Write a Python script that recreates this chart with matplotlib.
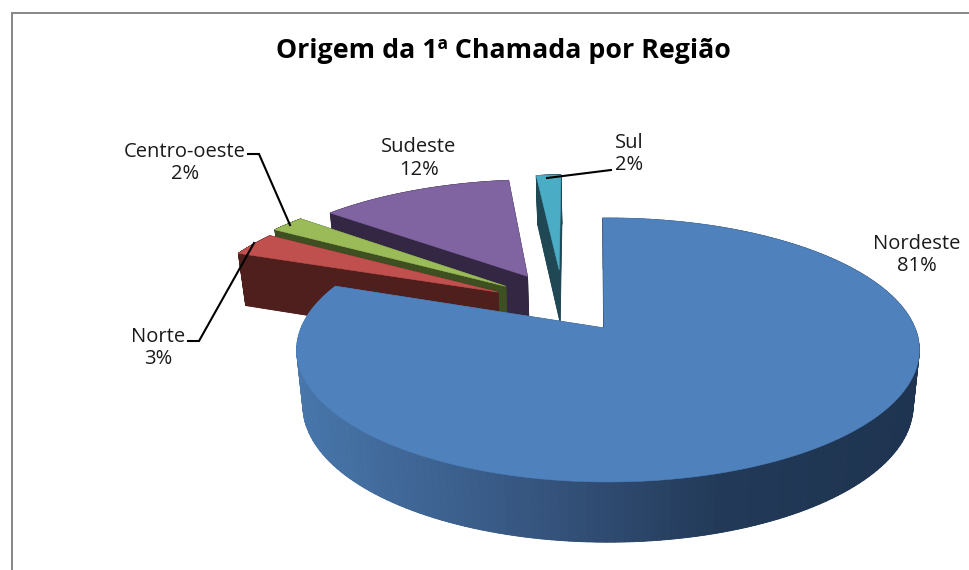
#!/usr/bin/env python
# -*- coding: utf-8 -*-

import numpy
import matplotlib
matplotlib.use('Agg')
import matplotlib.pyplot as plt
from matplotlib.collections import PolyCollection
from matplotlib.colors import LinearSegmentedColormap
from matplotlib.patches import Polygon, Rectangle

title = 'Origem da 1ª Chamada por Região'
regions = ['Nordeste', 'Norte', 'Centro-oeste', 'Sudeste', 'Sul']
shares = [80.9, 3.0, 2.1, 12.4, 1.6]

top_colors = ['#4f81bd', '#c0504d', '#9bbb59', '#8064a2', '#4bacc6']
wall_colors = [None, '#4f1f1e', '#3e4f22', '#342744', '#1f4854']

# exploded offset of each slice in disc units, and its radius
offsets_u = [-0.013, -0.376, -0.352, -0.281, -0.172]
offsets_v = [0, 0.2935, 0.3435, 0.4315, 0.489]
radii = [1, 1.02, 1.04, 1, 1]
draw_order = [4, 3, 2, 1, 0]

label_centers = [(917, 255), (158, 348), (185, 163), (419, 158.5), (629, 154)]
leaders = [
    None,
    [(188, 341), (199, 341), (254, 243)],
    [(248, 154), (259, 154), (290, 225)],
    None,
    [(547, 178), (611, 170)],
]

center_x, center_y = 608, 328
scale_x, scale_y = 307, 128.3
perspective = 1 / 6
depth = 55
bottom_shrink = 0.98
rotation = -1.1

wall_map = LinearSegmentedColormap.from_list(
    'wall',
    [(0.0, '#4877ac'), (0.38, '#36557f'), (0.68, '#223a58'), (1.0, '#1e3450')]
)


def project(u, v):
    w = 1 + perspective * v
    return center_x + scale_x * u / w, center_y - scale_y * v / w


def bottom_of(u, v):
    x, y = project(u, v)
    w = 1 + perspective * v
    return center_x + (x - center_x) * bottom_shrink, y + depth / numpy.sqrt(w)


def draw_slice(ax, index, start, stop):
    theta = numpy.radians(numpy.linspace(start, stop, 200) + rotation)
    # the big slice keeps its arc on the disc centre, only its apex is off
    arc_u = 0 if index == 0 else offsets_u[index]
    u = arc_u + radii[index] * numpy.sin(theta)
    v = offsets_v[index] + radii[index] * numpy.cos(theta)

    ring_u = numpy.concatenate([[offsets_u[index]], u])
    ring_v = numpy.concatenate([[offsets_v[index]], v])
    top_x, top_y = project(ring_u, ring_v)
    low_x, low_y = bottom_of(ring_u, ring_v)

    quads = []
    for i in range(len(ring_u)):
        j = (i + 1) % len(ring_u)
        quads.append([
            (top_x[i], top_y[i]), (top_x[j], top_y[j]),
            (low_x[j], low_y[j]), (low_x[i], low_y[i])
        ])

    if wall_colors[index] is None:
        mids = numpy.array([numpy.mean(q, axis=0)[0] for q in quads])
        colors = wall_map((mids - 297) / (920 - 297))
        floor = '#1e3450'
    else:
        colors = wall_colors[index]
        floor = colors

    ax.add_patch(Polygon(numpy.column_stack([low_x, low_y]), closed=True, color=floor, lw=0))
    ax.add_collection(PolyCollection(quads, facecolors=colors, edgecolors=colors, linewidths=0.6))
    ax.add_patch(Polygon(numpy.column_stack([top_x, top_y]), closed=True, facecolor=top_colors[index], edgecolor=top_colors[index], lw=0.4))


plt.rcParams['font.family'] = ['Open Sans', 'DejaVu Sans']

figure = plt.figure(figsize=(9.7, 5.7), dpi=100)
ax = figure.add_axes([0, 0, 1, 1])
ax.set_xlim(0, 970)
ax.set_ylim(570, 0)
ax.axis('off')

# only the left and top edges of the chart frame fall inside the picture
ax.add_patch(Rectangle((12, 13), 1000, 600, facecolor='white', edgecolor='#868686', lw=1.4))

stops = numpy.cumsum(shares) * 3.6
starts = numpy.concatenate([[0], stops[:-1]])

for index in draw_order:
    draw_slice(ax, index, starts[index], stops[index])

for points in leaders:
    if points is not None:
        xs, ys = zip(*points)
        ax.plot(xs, ys, color='black', lw=1.5, solid_joinstyle='miter')

for region, share, (x, y) in zip(regions, shares, label_centers):
    ax.text(x, y, f'{region}\n{share:.0f}%', ha='center', va='center', fontsize=14.5, color='#1a1a1a', linespacing=1.15)

ax.text(503, 51, title, ha='center', va='center', fontsize=19.3, fontweight='bold', color='black')

figure.savefig('out.png', dpi=100)
